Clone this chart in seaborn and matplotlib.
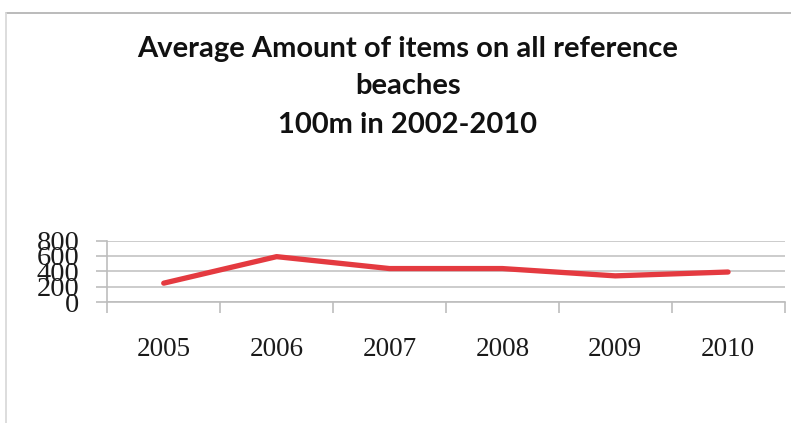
import matplotlib
matplotlib.use("Agg")
import matplotlib.pyplot as plt
from matplotlib.lines import Line2D
from matplotlib.ticker import FixedLocator, NullFormatter
import seaborn as sns
import pandas as pd

# Data
years = ["2005", "2006", "2007", "2008", "2009", "2010"]
avg_items = [245, 590, 435, 435, 340, 390]
y_ticks = [0, 200, 400, 600, 800]
title_lines = ["Average Amount of items on all reference", "beaches", "100m in 2002-2010"]

sns.set_theme(style="white")

W, H = 791, 423
fig = plt.figure(figsize=(W / 100, H / 100), dpi=100)
fig.patch.set_facecolor("white")

# Outer chart frame (top and left edges)
fig.add_artist(Line2D([6.5 / W, 1.0], [1 - 13.5 / H, 1 - 13.5 / H],
                      transform=fig.transFigure, color="#b5b5b5", lw=1.3))
fig.add_artist(Line2D([6.5 / W, 6.5 / W], [0.0, 1 - 13.5 / H],
                      transform=fig.transFigure, color="#dadada", lw=1.3))

# Plot area
x0, x1 = 107.3, 784.5
y_top, y_bot = 240.5, 302.0
ax = fig.add_axes([x0 / W, 1 - y_bot / H, (x1 - x0) / W, (y_bot - y_top) / H])

df = pd.DataFrame({"pos": range(len(years)), "items": avg_items})
sns.lineplot(data=df, x="pos", y="items", ax=ax, color="#e43a40", lw=3.8,
             solid_capstyle="round", solid_joinstyle="round")

ax.set_xlim(-0.5, len(years) - 0.5)
ax.set_ylim(0, 800)
ax.set_xlabel("")
ax.set_ylabel("")

# Category axis: tick marks between categories, labels at category centres
ax.xaxis.set_major_locator(FixedLocator([i - 0.5 for i in range(len(years) + 1)]))
ax.xaxis.set_major_formatter(NullFormatter())
ax.xaxis.set_minor_locator(FixedLocator(list(range(len(years)))))
ax.set_xticklabels(years, minor=True)
ax.tick_params(axis="x", which="major", direction="out", length=8, width=1.2,
               color="#bdbdbd", bottom=True)
ax.tick_params(axis="x", which="minor", length=0, pad=25, labelsize=19.5,
               labelcolor="#1a1a1a")
for lab in ax.get_xticklabels(minor=True):
    lab.set_fontfamily("Liberation Serif")

ax.set_yticks(y_ticks)
ax.set_yticklabels([str(v) for v in y_ticks])
ax.tick_params(axis="y", direction="out", length=8, width=1.2, color="#bdbdbd",
               left=True, pad=12, labelsize=20.5, labelcolor="#1a1a1a")
for lab in ax.get_yticklabels():
    lab.set_fontfamily("Liberation Serif")

ax.grid(axis="y", color="#c4c4c4", lw=1.2)
ax.grid(axis="x", visible=False)
for side in ["top", "right"]:
    ax.spines[side].set_visible(False)
ax.spines["left"].set_color("#bdbdbd")
ax.spines["left"].set_linewidth(1.2)
ax.spines["bottom"].set_color("#bdbdbd")
ax.spines["bottom"].set_linewidth(1.2)
ax.set_axisbelow(True)

# Three-line chart title
baselines = [56.7, 94.5, 133.0]
for text, base in zip(title_lines, baselines):
    fig.text(408 / W, 1 - base / H, text, ha="center", va="baseline",
             fontsize=21, fontweight="bold", family="Lato", color="#111111")

fig.savefig("out.png", dpi=100, facecolor="white")
